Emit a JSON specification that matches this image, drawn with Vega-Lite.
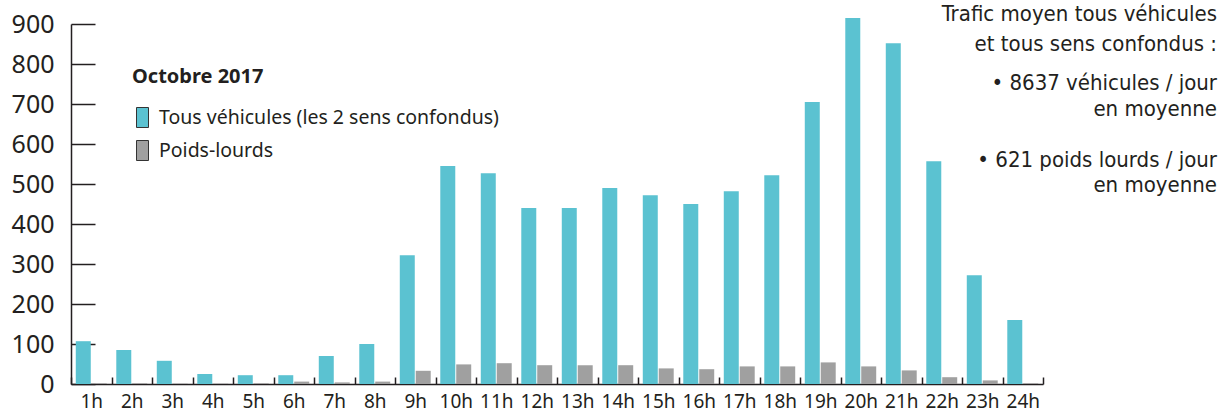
{
  "$schema": "https://vega.github.io/schema/vega-lite/v6.json",
  "width": 972,
  "height": 360,
  "autosize": {"type": "none"},
  "padding": {"left": 71, "top": 24, "right": 177, "bottom": 28},
  "background": "white",
  "title": {
    "text": ["Trafic moyen tous véhicules", "et tous sens confondus :"],
    "subtitle": ["• 8637 véhicules / jour", "en moyenne", "\u200b", "• 621 poids lourds / jour", "en moyenne"],
    "anchor": "end",
    "align": "right",
    "frame": "group",
    "orient": "top",
    "dx": 174,
    "offset": -185,
    "font": "DejaVu Sans Condensed",
    "fontSize": 22,
    "fontWeight": "normal",
    "lineHeight": 30,
    "color": "#231f20",
    "subtitleFont": "DejaVu Sans Condensed",
    "subtitleFontSize": 22,
    "subtitleLineHeight": 25.5,
    "subtitleColor": "#231f20",
    "subtitlePadding": 17
  },
  "data": {
    "values": [
      {"heure": "1h", "serie": "Tous véhicules (les 2 sens confondus)", "valeur": 107},
      {"heure": "2h", "serie": "Tous véhicules (les 2 sens confondus)", "valeur": 85},
      {"heure": "3h", "serie": "Tous véhicules (les 2 sens confondus)", "valeur": 58},
      {"heure": "4h", "serie": "Tous véhicules (les 2 sens confondus)", "valeur": 25},
      {"heure": "5h", "serie": "Tous véhicules (les 2 sens confondus)", "valeur": 22},
      {"heure": "6h", "serie": "Tous véhicules (les 2 sens confondus)", "valeur": 22},
      {"heure": "7h", "serie": "Tous véhicules (les 2 sens confondus)", "valeur": 70},
      {"heure": "8h", "serie": "Tous véhicules (les 2 sens confondus)", "valeur": 100},
      {"heure": "9h", "serie": "Tous véhicules (les 2 sens confondus)", "valeur": 322},
      {"heure": "10h", "serie": "Tous véhicules (les 2 sens confondus)", "valeur": 545},
      {"heure": "11h", "serie": "Tous véhicules (les 2 sens confondus)", "valeur": 527},
      {"heure": "12h", "serie": "Tous véhicules (les 2 sens confondus)", "valeur": 440},
      {"heure": "13h", "serie": "Tous véhicules (les 2 sens confondus)", "valeur": 440},
      {"heure": "14h", "serie": "Tous véhicules (les 2 sens confondus)", "valeur": 490},
      {"heure": "15h", "serie": "Tous véhicules (les 2 sens confondus)", "valeur": 472},
      {"heure": "16h", "serie": "Tous véhicules (les 2 sens confondus)", "valeur": 450},
      {"heure": "17h", "serie": "Tous véhicules (les 2 sens confondus)", "valeur": 482},
      {"heure": "18h", "serie": "Tous véhicules (les 2 sens confondus)", "valeur": 522},
      {"heure": "19h", "serie": "Tous véhicules (les 2 sens confondus)", "valeur": 705},
      {"heure": "20h", "serie": "Tous véhicules (les 2 sens confondus)", "valeur": 915},
      {"heure": "21h", "serie": "Tous véhicules (les 2 sens confondus)", "valeur": 852},
      {"heure": "22h", "serie": "Tous véhicules (les 2 sens confondus)", "valeur": 557},
      {"heure": "23h", "serie": "Tous véhicules (les 2 sens confondus)", "valeur": 272},
      {"heure": "24h", "serie": "Tous véhicules (les 2 sens confondus)", "valeur": 160},
      {"heure": "1h", "serie": "Poids-lourds", "valeur": 2},
      {"heure": "2h", "serie": "Poids-lourds", "valeur": 2},
      {"heure": "3h", "serie": "Poids-lourds", "valeur": 1},
      {"heure": "4h", "serie": "Poids-lourds", "valeur": 1},
      {"heure": "5h", "serie": "Poids-lourds", "valeur": 2},
      {"heure": "6h", "serie": "Poids-lourds", "valeur": 6},
      {"heure": "7h", "serie": "Poids-lourds", "valeur": 4},
      {"heure": "8h", "serie": "Poids-lourds", "valeur": 6},
      {"heure": "9h", "serie": "Poids-lourds", "valeur": 33},
      {"heure": "10h", "serie": "Poids-lourds", "valeur": 49},
      {"heure": "11h", "serie": "Poids-lourds", "valeur": 52},
      {"heure": "12h", "serie": "Poids-lourds", "valeur": 47},
      {"heure": "13h", "serie": "Poids-lourds", "valeur": 47},
      {"heure": "14h", "serie": "Poids-lourds", "valeur": 47},
      {"heure": "15h", "serie": "Poids-lourds", "valeur": 39},
      {"heure": "16h", "serie": "Poids-lourds", "valeur": 37},
      {"heure": "17h", "serie": "Poids-lourds", "valeur": 44},
      {"heure": "18h", "serie": "Poids-lourds", "valeur": 44},
      {"heure": "19h", "serie": "Poids-lourds", "valeur": 54},
      {"heure": "20h", "serie": "Poids-lourds", "valeur": 44},
      {"heure": "21h", "serie": "Poids-lourds", "valeur": 34},
      {"heure": "22h", "serie": "Poids-lourds", "valeur": 17},
      {"heure": "23h", "serie": "Poids-lourds", "valeur": 9},
      {"heure": "24h", "serie": "Poids-lourds", "valeur": 2}
    ]
  },
  "mark": {"type": "bar"},
  "encoding": {
    "x": {
      "field": "heure",
      "type": "nominal",
      "sort": null,
      "scale": {"paddingInner": 0, "paddingOuter": 0},
      "axis": {
        "title": null,
        "labelAngle": 0,
        "tickBand": "extent",
        "tickSize": -7,
        "tickWidth": 1.5,
        "tickColor": "#231f20",
        "domainColor": "#231f20",
        "domainWidth": 1.5,
        "labelFont": "Noto Sans",
        "labelFontSize": 19,
        "labelColor": "#231f20",
        "labelPadding": 15
      }
    },
    "xOffset": {
      "field": "serie",
      "type": "nominal",
      "sort": ["Tous véhicules (les 2 sens confondus)", "Poids-lourds"],
      "scale": {"paddingInner": 0.06, "paddingOuter": 0.3}
    },
    "y": {
      "field": "valeur",
      "type": "quantitative",
      "scale": {"domain": [0, 900], "nice": false},
      "axis": {
        "title": null,
        "values": [0, 100, 200, 300, 400, 500, 600, 700, 800, 900],
        "grid": false,
        "tickSize": -24,
        "tickWidth": 1.5,
        "tickColor": "#231f20",
        "domainColor": "#231f20",
        "domainWidth": 1.5,
        "labelFont": "Noto Sans",
        "labelFontSize": 25,
        "labelColor": "#231f20",
        "labelPadding": 41
      }
    },
    "color": {
      "field": "serie",
      "type": "nominal",
      "sort": ["Tous véhicules (les 2 sens confondus)", "Poids-lourds"],
      "scale": {
        "domain": ["Tous véhicules (les 2 sens confondus)", "Poids-lourds"],
        "range": ["#5bc2d1", "#a0a0a0"]
      },
      "legend": {
        "title": "Octobre 2017",
        "orient": "none",
        "legendX": 61,
        "legendY": 43,
        "titleFont": "Noto Sans",
        "titleFontSize": 20,
        "titleFontWeight": "bold",
        "titleColor": "#231f20",
        "titlePadding": 20,
        "labelFont": "Noto Sans",
        "labelFontSize": 19.5,
        "labelColor": "#231f20",
        "labelOffset": 6,
        "labelLimit": 500,
        "rowPadding": 8,
        "symbolType": "M-0.6,-1H0.6V1H-0.6Z",
        "symbolSize": 400,
        "symbolStrokeColor": "#333333",
        "symbolStrokeWidth": 1,
        "symbolOpacity": 1
      }
    }
  },
  "config": {
    "view": {"stroke": null}
  }
}
